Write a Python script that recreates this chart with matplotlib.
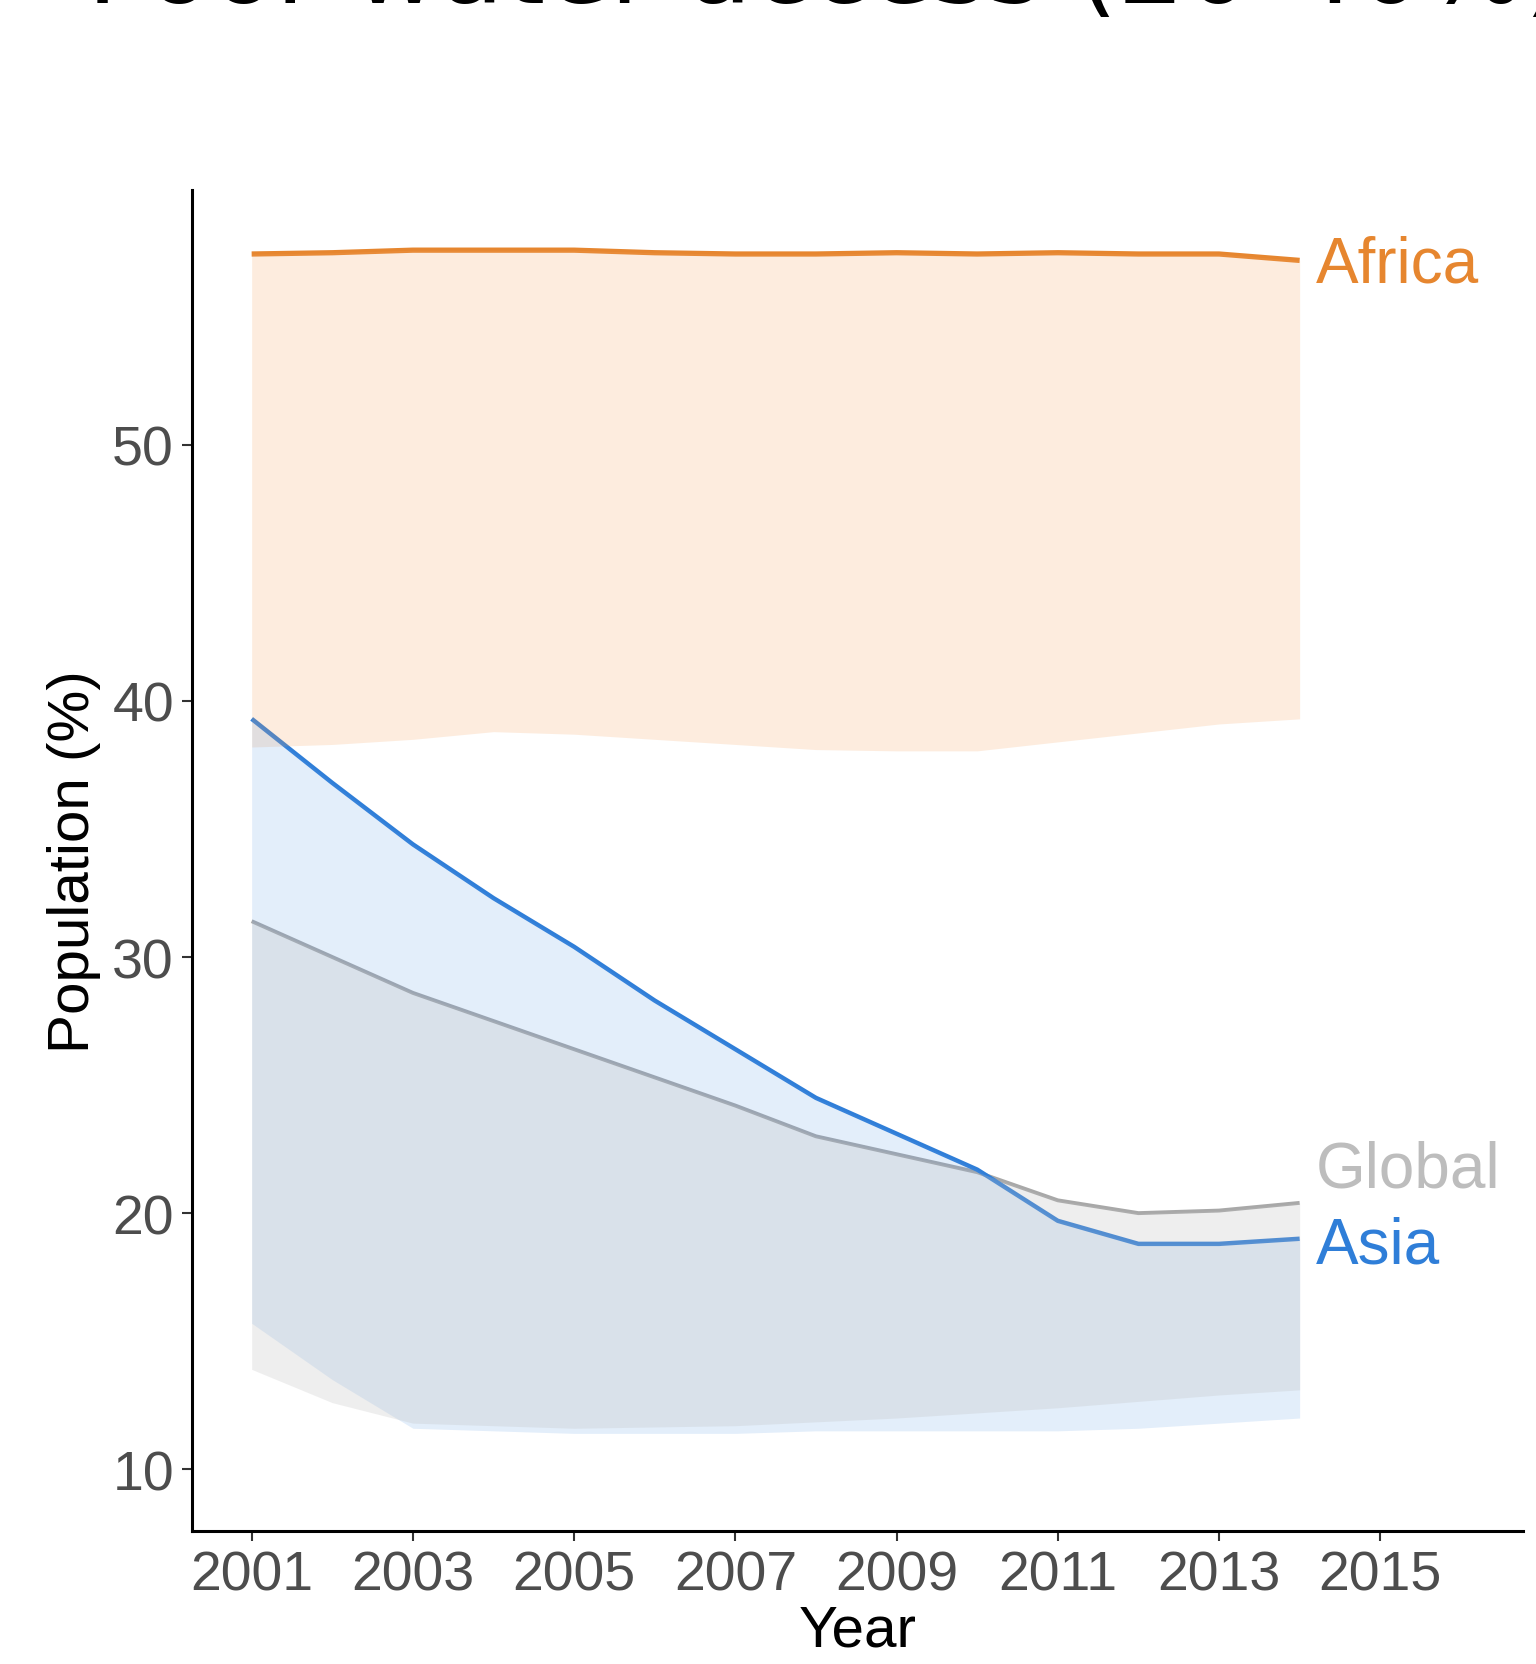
import matplotlib
matplotlib.use("Agg")
import matplotlib.pyplot as plt

YEARS = list(range(2001, 2015))

AFRICA = [57.45, 57.5, 57.6, 57.6, 57.6, 57.5, 57.45, 57.45, 57.5, 57.45, 57.5, 57.45, 57.45, 57.2]
AFRICA_LOW = [38.2, 38.3, 38.5, 38.8, 38.7, 38.5, 38.3, 38.1, 38.05, 38.05, 38.4, 38.75, 39.1, 39.3]

ASIA = [39.3, 36.8, 34.4, 32.3, 30.4, 28.3, 26.4, 24.5, 23.1, 21.7, 19.7, 18.8, 18.8, 19.0]
ASIA_LOW = [15.7, 13.5, 11.6, 11.5, 11.4, 11.4, 11.4, 11.5, 11.5, 11.5, 11.5, 11.6, 11.8, 12.0]

GLOBAL = [31.4, 30.0, 28.6, 27.5, 26.4, 25.3, 24.2, 23.0, 22.3, 21.6, 20.5, 20.0, 20.1, 20.4]
GLOBAL_LOW = [13.9, 12.6, 11.8, 11.7, 11.6, 11.65, 11.7, 11.85, 12.0, 12.2, 12.4, 12.65, 12.9, 13.1]

# where the end labels sit (y, data units)
LABEL_Y = {"Africa": 57.05, "Global": 21.7, "Asia": 18.75}

XTICKS = [2001, 2003, 2005, 2007, 2009, 2011, 2013, 2015]
YTICKS = [10, 20, 30, 40, 50]

TITLE = "Poor water access (20-40%)"

C_AFRICA = "#E6862F"
C_ASIA = "#2F7ED8"
C_GLOBAL = "#A8A8A8"

plt.rcParams["font.family"] = ["Liberation Sans", "DejaVu Sans"]

fig = plt.figure(figsize=(15.36, 16.65), dpi=100)
ax = fig.add_axes([0.125, 0.0799, 0.8665, 0.8054])

# lines first, ribbons laid over them (ggplot-style)
ax.plot(YEARS, AFRICA, color=C_AFRICA, lw=3.8, zorder=2, solid_capstyle="butt")
ax.plot(YEARS, GLOBAL, color=C_GLOBAL, lw=2.8, zorder=2, solid_capstyle="butt")
ax.plot(YEARS, ASIA, color=C_ASIA, lw=3.2, zorder=2, solid_capstyle="butt")

ax.fill_between(YEARS, AFRICA_LOW, AFRICA, color="#F5A25D", alpha=0.2, lw=0, zorder=3)
ax.fill_between(YEARS, ASIA_LOW, ASIA, color="#5B9BE6", alpha=0.17, lw=0, zorder=3)
ax.fill_between(YEARS, GLOBAL_LOW, GLOBAL, color="#BDBDBD", alpha=0.25, lw=0, zorder=3)

# end labels
lx = YEARS[-1] + 0.2
ax.text(lx, LABEL_Y["Africa"], "Africa", color=C_AFRICA, fontsize=46, ha="left", va="center")
ax.text(lx, LABEL_Y["Global"], "Global", color="#BDBDBD", fontsize=46, ha="left", va="center")
ax.text(lx, LABEL_Y["Asia"], "Asia", color=C_ASIA, fontsize=46, ha="left", va="center")

ax.set_xlim(2000.26, 2016.77)
ax.set_ylim(7.59, 59.95)
ax.set_xticks(XTICKS)
ax.set_yticks(YTICKS)

for s in ["top", "right"]:
    ax.spines[s].set_visible(False)
for s in ["left", "bottom"]:
    ax.spines[s].set_linewidth(2.2)
    ax.spines[s].set_color("black")

ax.tick_params(axis="both", length=7, width=1.5, color="#333333",
               labelsize=40, labelcolor="#4D4D4D", pad=6)

ax.set_xlabel("Year", fontsize=42, labelpad=2)
ax.set_ylabel("Population (%)", fontsize=42, labelpad=8)

# title runs off the top/right edge, as in the source image
fig.text(87 / 1536, 1 - 3 / 1665, TITLE, fontsize=76, va="baseline", ha="left",
         family="DejaVu Sans", color="black")

fig.savefig("out.png", dpi=100)
